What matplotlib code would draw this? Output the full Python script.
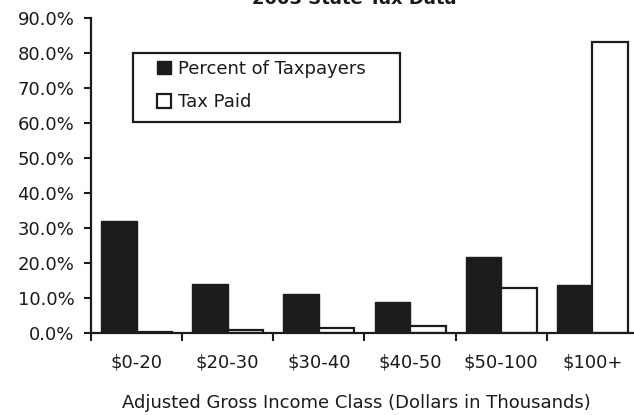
import numpy as np
import matplotlib
matplotlib.use('Agg')
import matplotlib.pyplot as plt
from matplotlib.patches import Rectangle
from matplotlib.ticker import FuncFormatter

# Data (percent)
classes = ['$0-20', '$20-30', '$30-40', '$40-50', '$50-100', '$100+']
pct_taxpayers = [31.9, 13.9, 11.1, 8.8, 21.6, 13.7]
tax_paid = [0.3, 0.8, 1.4, 2.0, 12.7, 83.1]
y_ticks = [0, 10, 20, 30, 40, 50, 60, 70, 80, 90]

plt.rcParams['font.family'] = ['DejaVu Sans']
plt.rcParams['text.color'] = '#1a1a1a'
INK = '#1c1c1c'
FS = 13

W, H = 634, 415
fig = plt.figure(figsize=(W / 100, H / 100), dpi=100)
# axes spans beyond the right edge, like the cropped original
ax = fig.add_axes([91 / W, 1 - 332.7 / H, 547 / W, 314.4 / H])

x = np.arange(len(classes))
bw = 0.39
ax.bar(x - bw / 2, pct_taxpayers, bw, color=INK, edgecolor=INK, linewidth=1.0,
       label='Percent of Taxpayers')
ax.bar(x + bw / 2, tax_paid, bw, color='white', edgecolor=INK, linewidth=1.6,
       label='Tax Paid')

ax.set_xlim(-0.5, len(classes) - 0.5)
ax.set_ylim(0, 90)
ax.set_yticks(y_ticks)
ax.yaxis.set_major_formatter(FuncFormatter(lambda v, p: f'{v:.1f}%'))

# ticks at category boundaries, labels at centres
ax.set_xticks(np.arange(len(classes) + 1) - 0.5)
ax.set_xticklabels([])
ax.set_xticks(x, classes, minor=True)
ax.tick_params(axis='x', which='minor', length=0, pad=15, labelsize=FS,
               labelcolor='#1a1a1a')
ax.tick_params(axis='x', which='major', length=6, width=1.5, color=INK)
ax.tick_params(axis='y', length=5, width=1.5, color=INK, pad=7, labelsize=FS,
               labelcolor='#1a1a1a')

for s in ['top', 'right']:
    ax.spines[s].set_visible(False)
for s in ['left', 'bottom']:
    ax.spines[s].set_linewidth(1.6)
    ax.spines[s].set_color(INK)

fig.text(354 / W, 1 - 4 / H, '2003 State Tax Data', ha='center', va='baseline',
         fontsize=FS, fontweight='bold')
fig.text(356 / W, 1 - 403 / H, 'Adjusted Gross Income Class (Dollars in Thousands)',
         ha='center', va='center', fontsize=FS)

# legend frame
fig.patches.append(Rectangle((133 / W, 1 - 122 / H), 267 / W, 69 / H,
                             transform=fig.transFigure, fill=False,
                             edgecolor=INK, linewidth=1.6))
h = [Rectangle((0, 0), 1, 1, facecolor=INK, edgecolor=INK, linewidth=1.0),
     Rectangle((0, 0), 1, 1, facecolor='white', edgecolor=INK, linewidth=1.6)]
fig.legend(h, ['Percent of Taxpayers', 'Tax Paid'], loc='upper left',
           bbox_to_anchor=(157 / W, 1 - 60 / H), frameon=False, fontsize=FS,
           borderpad=0, borderaxespad=0, handlelength=0.75, handleheight=0.75,
           handletextpad=0.4, labelspacing=0.85)

fig.savefig('out.png', dpi=100)
